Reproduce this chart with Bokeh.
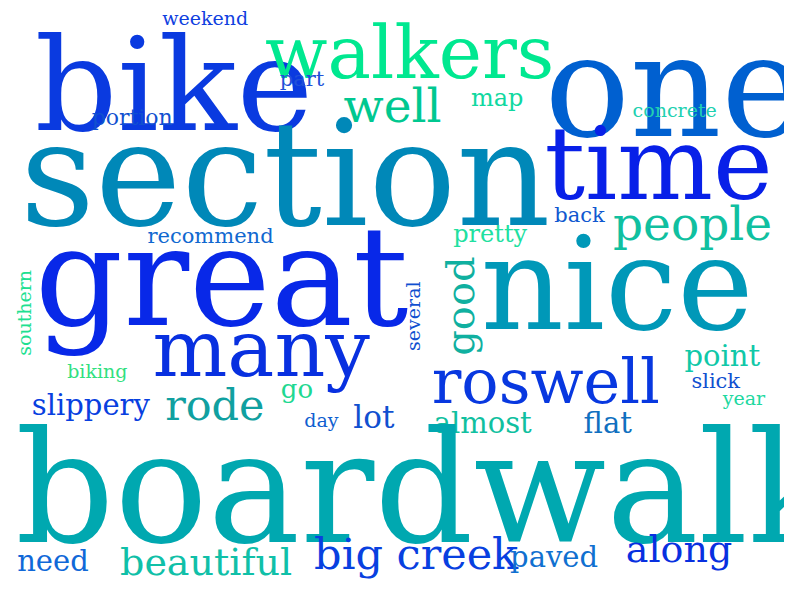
import math
from bokeh.plotting import figure
from bokeh.models import ColumnDataSource, Range1d
from bokeh.core.properties import value
from bokeh.embed import file_html
from bokeh.resources import INLINE

# words and their weights (font size, px)
words = ["bike", "walkers", "one", "weekend", "part", "well", "map", "portion", "concrete",
         "section", "time", "people", "back", "recommend", "pretty", "great", "nice", "many",
         "southern", "several", "good", "roswell", "point", "slick", "year", "biking",
         "slippery", "rode", "go", "day", "lot", "almost", "flat", "boardwalk", "need",
         "beautiful", "big creek", "paved", "along"]
sizes = [150, 85, 165, 22, 24, 55, 28, 26, 22,
         170, 118, 55, 24, 24, 28, 160, 150, 92,
         22, 22, 46, 72, 34, 24, 22, 22,
         34, 50, 30, 22, 36, 34, 34, 180, 34,
         44, 50, 34, 44]
colors = ["#0a3ae0", "#00e890", "#0060d0", "#1040e0", "#2050d8", "#00c890", "#10d8a0", "#1050d0", "#20d0b0",
          "#0088b8", "#0820e8", "#10c0a0", "#1058d0", "#1068d0", "#20e0a0", "#0828e8", "#0098b8", "#0830e0",
          "#20e090", "#1050d0", "#10b0a0", "#0838e0", "#10c8a8", "#1050d0", "#20d8a0", "#30e080",
          "#0840e0", "#10a0a0", "#20d890", "#1060d0", "#1050d0", "#10c0a0", "#1070c0", "#00a8b0", "#1068d8",
          "#10c0a8", "#0840e0", "#1070d0", "#0830e0"]
# layout: left x, baseline y (pixels, top-down), rotation
xs = [35, 270, 555, 165, 285, 350, 480, 93, 645,
      20, 555, 625, 565, 150, 462, 35, 490, 155,
      28, 425, 478, 440, 698, 705, 737, 68,
      32, 168, 286, 310, 360, 442, 595, 15, 17,
      122, 320, 520, 638]
ys = [115, 70, 120, 22, 85, 118, 105, 125, 117,
      210, 190, 240, 225, 247, 245, 315, 320, 375,
      365, 360, 365, 405, 372, 395, 413, 385,
      422, 425, 405, 435, 435, 440, 440, 535, 582,
      585, 578, 578, 572]
rot = [0] * len(words)
for w in ("southern", "several", "good"):
    rot[words.index(w)] = math.pi / 2

scale = 0.86  # DejaVu Serif is wider than the weight sizes assume
fs = [s * scale for s in sizes]
# the renderer places glyphs ~0.22 em below the requested baseline; compensate
px, py = [], []
for x, y, f, a in zip(xs, ys, fs, rot):
    if a:
        px.append(x - 0.22 * f); py.append(y)
    else:
        px.append(x); py.append(y - 0.22 * f)

src = ColumnDataSource(dict(x=px, y=py, text=words, size=[f"{f:.0f}px" for f in fs],
                            color=colors, angle=rot))

p = figure(width=784, height=584, output_backend="svg", toolbar_location=None,
           x_range=Range1d(0, 800), y_range=Range1d(600, 0), min_border=0)
p.axis.visible = False
p.grid.visible = False
p.outline_line_color = None

p.text(x="x", y="y", text="text", text_font_size="size", text_color="color", angle="angle",
       text_font=value("DejaVu Serif"), text_baseline="alphabetic", source=src)

open("out.html", "w").write(file_html(p, INLINE))
